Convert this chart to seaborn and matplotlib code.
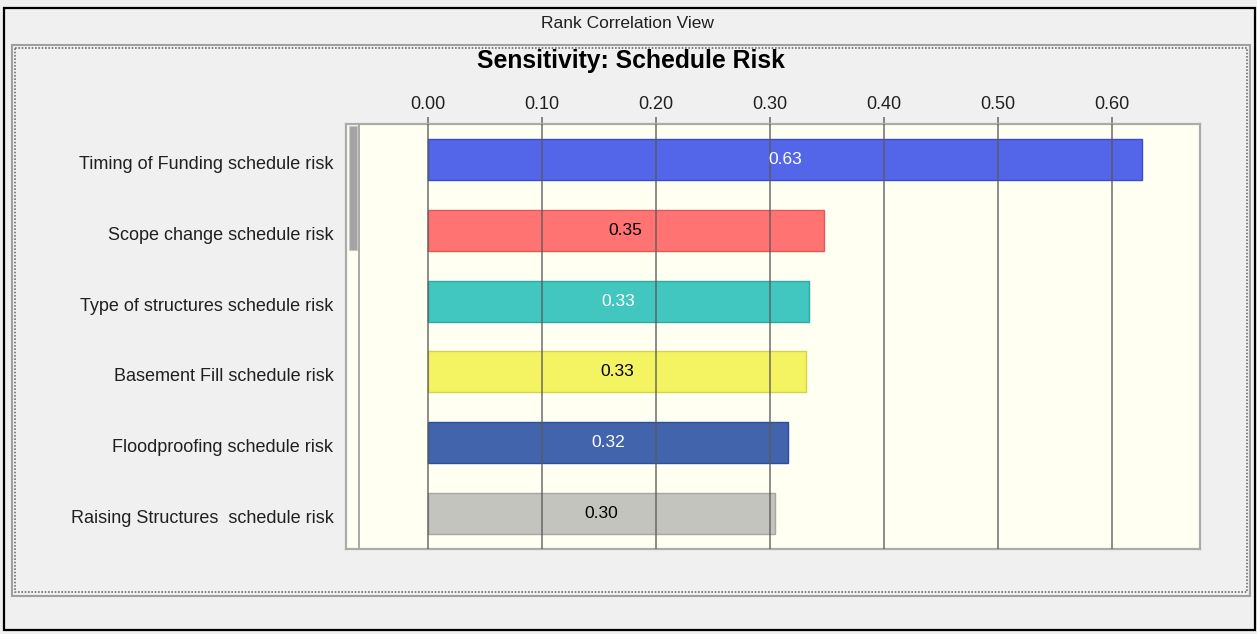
import matplotlib
matplotlib.use("Agg")
import matplotlib.pyplot as plt
from matplotlib.patches import Rectangle
from matplotlib.transforms import ScaledTranslation
import seaborn as sns
import pandas as pd

# Rank correlation of each risk driver with schedule risk
factors = [
    "Timing of Funding schedule risk",
    "Scope change schedule risk",
    "Type of structures schedule risk",
    "Basement Fill schedule risk",
    "Floodproofing schedule risk",
    "Raising Structures  schedule risk",
]
correlations = [0.626, 0.347, 0.334, 0.332, 0.316, 0.304]
tick_values = [0.0, 0.1, 0.2, 0.3, 0.4, 0.5, 0.6]
tick_labels = ["0.00", "0.10", "0.20", "0.30", "0.40", "0.50", "0.60"]

fill_colors = ["#5366EA", "#FF7372", "#42C6C0", "#F4F462", "#4164AC", "#C4C4BF"]
edge_colors = ["#3A4CCB", "#E05A5A", "#2EAAA4", "#D4D44A", "#2F4F96", "#A6A6A2"]
label_colors = ["white", "black", "white", "black", "white", "black"]

df = pd.DataFrame({"factor": factors, "value": correlations})

sns.set_theme(style="white")
plt.rcParams["font.family"] = ["Liberation Sans", "DejaVu Sans"]

W, H = 1257, 634
fig = plt.figure(figsize=(W / 100, H / 100), dpi=100, facecolor="#F0F0F0")

# Window chrome drawn in pixel coordinates
bg = fig.add_axes([0, 0, 1, 1], zorder=0)
bg.set_xlim(0, W)
bg.set_ylim(H, 0)
bg.axis("off")
bg.add_patch(Rectangle((3.5, 7.5), 1251, 622, fill=False, edgecolor="black", lw=1.6))
bg.add_patch(Rectangle((12, 45), 1238, 551, fill=False, edgecolor="#A0A0A0", lw=1.5))
bg.add_patch(Rectangle((14.5, 47.5), 1232.5, 544.5, fill=False, edgecolor="#707070",
                       lw=1.2, linestyle=(0, (1, 1))))
bg.text(627, 23, "Rank Correlation View", ha="center", va="center",
        fontsize=12.5, color="#202020")
bg.text(631, 61, "Sensitivity: Schedule Risk", ha="center", va="center",
        fontsize=17.8, fontweight="bold", color="black")

# Plot area
left, right, top, bottom = 346, 1200, 124, 549
ax = fig.add_axes([left / W, (H - bottom) / H, (right - left) / W, (bottom - top) / H],
                  zorder=1)
ax.set_facecolor("#FFFFF2")

sns.barplot(data=df, y="factor", x="value", hue="factor", palette=fill_colors,
            saturation=1, orient="h", width=0.58, legend=False, ax=ax, zorder=2)

for container, ec, tc, v in zip(ax.containers, edge_colors, label_colors, correlations):
    for bar in container:
        bar.set_edgecolor(ec)
        bar.set_linewidth(1.0)
    ax.bar_label(container, labels=[f"{v:.2f}"], label_type="center",
                 color=tc, fontsize=12.5, zorder=5)

x0 = -82 / 1140
x1 = 772 / 1140
ax.set_xlim(x0, x1)
ax.set_ylim(5.5, -0.5)

for t in tick_values:
    ax.axvline(t, color="#5A5A5A", alpha=0.75, lw=1.3, zorder=4)

ax.xaxis.tick_top()
ax.set_xticks(tick_values)
ax.set_xticklabels(tick_labels)
ax.tick_params(axis="x", top=True, bottom=False, length=5, width=1.3, color="#7A7A7A",
               pad=3, labelsize=13, labelcolor="#202020")
ax.tick_params(axis="y", left=False, length=0, pad=9, labelsize=13, labelcolor="#202020")
ax.set_xlabel("")
ax.set_ylabel("")

shift = ScaledTranslation(0, -3 / 100, fig.dpi_scale_trans)
for lbl in ax.get_yticklabels():
    lbl.set_transform(lbl.get_transform() + shift)
for t in ax.texts:
    t.set_transform(t.get_transform() + ScaledTranslation(0, -1.5 / 100, fig.dpi_scale_trans))

for s in ax.spines.values():
    s.set_visible(True)
    s.set_color("#ABABAB")
    s.set_linewidth(1.6)

# Scroll indicator at the left edge of the plot area
px = 1 / (right - left)
py = 1 / (bottom - top)
ax.add_patch(Rectangle((3 * px, 1 - 126 * py), 8 * px, 124 * py, transform=ax.transAxes,
                       facecolor="#A4A4A4", edgecolor="#C8C8C8", lw=0.8, zorder=3))
ax.plot([13 * px, 13 * px], [0, 1], transform=ax.transAxes, color="#A8A8A8", lw=1.4, zorder=3)

fig.savefig("out.png", dpi=100, facecolor=fig.get_facecolor())
